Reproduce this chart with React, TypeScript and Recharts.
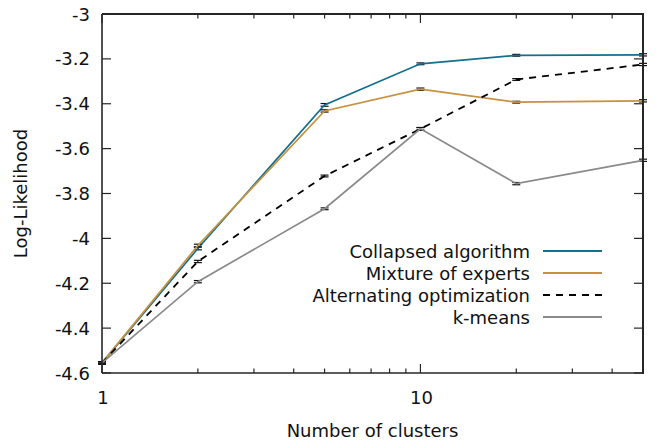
import { LineChart, Line, XAxis, YAxis, ErrorBar } from 'recharts';

const clusters = [1, 2, 5, 10, 20, 50];
const collapsed = [-4.555, -4.045, -3.405, -3.222, -3.184, -3.182];
const mixture = [-4.555, -4.032, -3.432, -3.335, -3.393, -3.387];
const alternating = [-4.555, -4.103, -3.722, -3.512, -3.292, -3.225];
const kmeans = [-4.555, -4.193, -3.868, -3.512, -3.756, -3.652];
const collapsedErr = [0.005, 0.006, 0.006, 0.004, 0.004, 0.005];
const mixtureErr = [0.005, 0.006, 0.005, 0.005, 0.004, 0.005];
const alternatingErr = [0.005, 0.005, 0.004, 0.006, 0.004, 0.005];
const kmeansErr = [0.005, 0.005, 0.004, 0.006, 0.005, 0.005];

const xTicks = [1, 2, 3, 4, 5, 6, 7, 8, 9, 10, 20, 30, 40];
const xLabels = [1, 10];
const yTicks = [-4.6, -4.4, -4.2, -4, -3.8, -3.6, -3.4, -3.2, -3];
const xDomain = [1, 50];
const yDomain = [-4.6, -3];

const W = 657;
const H = 441;
const M = { top: 14, right: 14, bottom: 0, left: 0 };
const X_AXIS_H = 68;
const Y_AXIS_W = 102;
const PLOT_LEFT = M.left + Y_AXIS_W;
const PLOT_TOP = M.top;
const PLOT_RIGHT = W - M.right;
const PLOT_BOTTOM = H - M.bottom - X_AXIS_H;

const C = {
  blue: '#13708f',
  orange: '#c6923f',
  black: '#000000',
  gray: '#8a8a8a',
  frame: '#262626',
};

const FONT = '"DejaVu Sans", Verdana, sans-serif';
const FS = 18;

const series = [
  { key: 'collapsed', name: 'Collapsed algorithm', color: C.blue, dash: undefined as string | undefined },
  { key: 'mixture', name: 'Mixture of experts', color: C.orange, dash: undefined },
  { key: 'alternating', name: 'Alternating optimization', color: C.black, dash: '7 6' },
  { key: 'kmeans', name: 'k-means', color: C.gray, dash: undefined },
];

const data = clusters.map((x, i) => ({
  x,
  collapsed: collapsed[i], collapsedErr: collapsedErr[i],
  mixture: mixture[i], mixtureErr: mixtureErr[i],
  alternating: alternating[i], alternatingErr: alternatingErr[i],
  kmeans: kmeans[i], kmeansErr: kmeansErr[i],
}));

const isMajor = (v: number) => xLabels.includes(v);

// same mapping as the chart's axes, only used for the mirrored box ticks
const xPix = (v: number) =>
  PLOT_LEFT + (Math.log(v / xDomain[0]) / Math.log(xDomain[1] / xDomain[0])) * (PLOT_RIGHT - PLOT_LEFT);
const yPix = (v: number) =>
  PLOT_TOP + ((yDomain[1] - v) / (yDomain[1] - yDomain[0])) * (PLOT_BOTTOM - PLOT_TOP);

// tickSize/tickMargin are 0, so x/y here sit right on the axis line
function BottomTick({ x, y, payload }: any) {
  const v = payload.value;
  const len = isMajor(v) ? 9 : 4.5;
  return (
    <g>
      <line x1={x} y1={y} x2={x} y2={y - len} stroke={C.frame} strokeWidth={1.2} />
      {isMajor(v) && (
        <text x={x + 1} y={y + 24} textAnchor="middle" dominantBaseline="central"
          fontFamily={FONT} fontSize={FS} fill="#111">{v}</text>
      )}
    </g>
  );
}

function LeftTick({ x, y, payload }: any) {
  const v = Math.round(payload.value * 10) / 10;
  return (
    <g>
      <line x1={x} y1={y} x2={x + 9} y2={y} stroke={C.frame} strokeWidth={1.2} />
      <text x={x - 12} y={y} textAnchor="end" dominantBaseline="central"
        fontFamily={FONT} fontSize={FS} fill="#111">{String(v)}</text>
    </g>
  );
}

// gnuplot box: top/right border with mirrored ticks, plus the key
function Overlay() {
  return (
    <>
      <div style={{
        position: 'absolute', left: PLOT_LEFT, top: PLOT_TOP - 1,
        width: PLOT_RIGHT - PLOT_LEFT - 1, height: PLOT_BOTTOM - PLOT_TOP,
        borderTop: `2px solid ${C.frame}`, borderRight: `2px solid ${C.frame}`,
        pointerEvents: 'none',
      }} />
      <svg width={W} height={H} style={{ position: 'absolute', left: 0, top: 0, pointerEvents: 'none' }}>
        <line x1={PLOT_LEFT} y1={PLOT_TOP} x2={PLOT_RIGHT} y2={PLOT_TOP} stroke={C.frame} strokeWidth={2} />
        <line x1={PLOT_RIGHT} y1={PLOT_TOP} x2={PLOT_RIGHT} y2={PLOT_BOTTOM} stroke={C.frame} strokeWidth={2} />
        {xTicks.map((v) => (
          <line key={`t${v}`} x1={xPix(v)} y1={PLOT_TOP} x2={xPix(v)} y2={PLOT_TOP + (isMajor(v) ? 9 : 4.5)}
            stroke={C.frame} strokeWidth={1.2} />
        ))}
        {yTicks.map((v) => (
          <line key={`r${v}`} x1={PLOT_RIGHT} y1={yPix(v)} x2={PLOT_RIGHT - 9} y2={yPix(v)}
            stroke={C.frame} strokeWidth={1.2} />
        ))}
        {series.map((s, i) => {
          const cy = 251 + i * 22;
          return (
            <g key={s.key}>
              <text x={530} y={cy} textAnchor="end" dominantBaseline="central"
                fontFamily={FONT} fontSize={FS} fill="#111">{s.name}</text>
              <line x1={543} y1={cy} x2={602} y2={cy} stroke={s.color} strokeWidth={2}
                strokeDasharray={s.dash} />
            </g>
          );
        })}
      </svg>
    </>
  );
}

export default function App() {
  const axisLine = { stroke: C.frame, strokeWidth: 1.6 };
  return (
    <div style={{ position: 'absolute', left: 0, top: 0, width: W, height: H, background: '#fff' }}>
      <LineChart width={W} height={H} data={data} margin={M}>
        <XAxis dataKey="x" type="number" scale="log" domain={xDomain} ticks={xTicks}
          interval={0} height={X_AXIS_H} tickSize={0} tickMargin={0} tickLine={false}
          axisLine={axisLine} tick={<BottomTick />}
          label={{ value: 'Number of clusters', position: 'insideBottom', offset: 4,
            style: { fontFamily: FONT, fontSize: FS, fill: '#111' } }} />
        <YAxis type="number" domain={yDomain} ticks={yTicks} interval={0} width={Y_AXIS_W}
          tickSize={0} tickMargin={0} tickLine={false} axisLine={axisLine} tick={<LeftTick />}
          label={{ value: 'Log-Likelihood', angle: -90, position: 'insideLeft', offset: 21,
            style: { fontFamily: FONT, fontSize: FS, fill: '#111', textAnchor: 'middle' } }} />
        {series.map((s) => (
          <Line key={s.key} type="linear" dataKey={s.key} name={s.name}
            stroke={s.color} strokeWidth={s.key === 'alternating' ? 1.8 : 1.7}
            strokeDasharray={s.dash} dot={false} activeDot={false} isAnimationActive={false}>
            <ErrorBar dataKey={`${s.key}Err`} direction="y" width={4} stroke="#111"
              strokeWidth={1.2} isAnimationActive={false} />
          </Line>
        ))}
      </LineChart>
      <Overlay />
    </div>
  );
}
